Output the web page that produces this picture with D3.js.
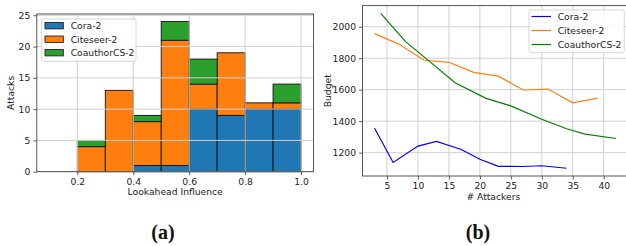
<!DOCTYPE html>
<html>
<head>
<meta charset="utf-8">
<script src="https://cdn.jsdelivr.net/npm/d3@7"></script>
<style>
  body { margin: 0; background: #fff; }
  svg { display: block; font-family: "DejaVu Sans", sans-serif; }
</style>
</head>
<body>
<div class="canva"></div>
<script>
// histogram data (bins of width 0.1)
const binStarts = [0.1, 0.2, 0.3, 0.4, 0.5, 0.6, 0.7, 0.8, 0.9];
const seriesNames = ['Cora-2', 'Citeseer-2', 'CoauthorCS-2'];
const coraCounts = [0, 0, 0, 1, 1, 10, 9, 10, 10];
const citeseerCounts = [0, 4, 13, 7, 20, 4, 10, 1, 1];
const coauthorCounts = [0, 1, 0, 1, 3, 4, 0, 0, 3];
const histTicksX = [0.2, 0.4, 0.6, 0.8, 1.0];
const histTicksY = [0, 5, 10, 15, 20, 25];

// budget vs attackers
const coraX = [3, 6, 10, 13, 17, 20, 23, 27, 30, 34];
const coraBudget = [1355, 1138, 1242, 1272, 1220, 1158, 1113, 1112, 1117, 1101];
const citeX = [3, 7, 11, 15, 19, 23, 27, 31, 35, 39];
const citeBudget = [1956, 1888, 1787, 1774, 1710, 1686, 1598, 1604, 1517, 1546];
const coauX = [4, 8, 12, 16, 21, 25, 30, 34, 37, 42];
const coauBudget = [2085, 1905, 1775, 1644, 1545, 1497, 1412, 1352, 1318, 1290];
const lineTicksX = [5, 10, 15, 20, 25, 30, 35, 40];
const lineTicksY = [1200, 1400, 1600, 1800, 2000];

const histColors = ['#1f77b4', '#ff7f0e', '#2ca02c'];
const lineColors = ['#0000ff', '#ff7f0e', '#008000'];
const gridColor = '#d0d0d0';
const fontSize = 9.2;

const svg = d3.select('.canva').append('svg')
              .attr('width', 626)
              .attr('height', 246);

//-------- (a) stacked histogram --------
const histBox = {left: 36.8, right: 313.6, top: 14, bottom: 171.7};
const hx = d3.scaleLinear().domain([0.055, 1.045]).range([histBox.left, histBox.right]);
const hy = d3.scaleLinear().domain([0, 25.2]).range([histBox.bottom, histBox.top]);

const histRows = binStarts.map((b, i) => ({
    bin: b,
    'Cora-2': coraCounts[i],
    'Citeseer-2': citeseerCounts[i],
    'CoauthorCS-2': coauthorCounts[i]
}));
const stacked = d3.stack().keys(seriesNames)(histRows);

const histG = svg.append('g');
stacked.forEach((layer, k) => {
    histG.append('g').selectAll('rect')
        .data(layer)
        .enter().append('rect')
        .attr('x', d => hx(d.data.bin))
        .attr('width', d => hx(d.data.bin + 0.1) - hx(d.data.bin))
        .attr('y', d => hy(d[1]))
        .attr('height', d => hy(d[0]) - hy(d[1]))
        .attr('fill', histColors[k])
        .attr('stroke', d => (d[1] - d[0]) > 0 ? '#111' : 'none')
        .attr('stroke-width', 0.9);
});

// grid drawn on top of bars
const hGrid = svg.append('g');
hGrid.selectAll('.gx').data(histTicksX).enter().append('line')
    .attr('x1', d => hx(d)).attr('x2', d => hx(d))
    .attr('y1', histBox.top).attr('y2', histBox.bottom)
    .attr('stroke', gridColor).attr('stroke-width', 1);
hGrid.selectAll('.gy').data(histTicksY).enter().append('line')
    .attr('x1', histBox.left).attr('x2', histBox.right)
    .attr('y1', d => hy(d)).attr('y2', d => hy(d))
    .attr('stroke', gridColor).attr('stroke-width', 1);

//axes for histogram
function styleAxis(g) {
    g.selectAll('text').attr('font-size', fontSize).attr('fill', '#222')
        .attr('font-family', '"DejaVu Sans", sans-serif');
    g.selectAll('line').attr('stroke', '#333').attr('stroke-width', 0.8);
    g.select('.domain').remove();
}
svg.append('g')
    .attr('transform', `translate(0, ${histBox.bottom})`)
    .call(d3.axisBottom(hx).tickValues(histTicksX).tickFormat(d3.format('.1f')).tickSize(3.5).tickPadding(3))
    .call(styleAxis);
svg.append('g')
    .attr('transform', `translate(${histBox.left}, 0)`)
    .call(d3.axisLeft(hy).tickValues(histTicksY).tickSize(3.5).tickPadding(3))
    .call(styleAxis);

svg.append('rect')
    .attr('x', histBox.left).attr('y', histBox.top)
    .attr('width', histBox.right - histBox.left)
    .attr('height', histBox.bottom - histBox.top)
    .attr('fill', 'none').attr('stroke', '#444').attr('stroke-width', 0.9);

svg.append('text')
    .attr('x', (histBox.left + histBox.right) / 2).attr('y', 195)
    .attr('text-anchor', 'middle').attr('font-size', fontSize).attr('fill', '#222')
    .text('Lookahead Influence');
svg.append('text')
    .attr('transform', `translate(14, ${(histBox.top + histBox.bottom) / 2}) rotate(-90)`)
    .attr('text-anchor', 'middle').attr('font-size', fontSize).attr('fill', '#222')
    .text('Attacks');

// legend (a)
const legA = svg.append('g');
legA.append('rect')
    .attr('x', 41.7).attr('y', 19).attr('width', 94.3).attr('height', 42.3)
    .attr('rx', 2).attr('fill', 'white').attr('fill-opacity', 0.85)
    .attr('stroke', '#cccccc').attr('stroke-width', 0.8);
seriesNames.forEach((name, i) => {
    const cy = 25.7 + i * 13.5;
    legA.append('rect')
        .attr('x', 45).attr('y', cy - 3.2).attr('width', 18.3).attr('height', 6.4)
        .attr('fill', histColors[i]).attr('stroke', '#111').attr('stroke-width', 0.8);
    legA.append('text')
        .attr('x', 70.7).attr('y', cy + 3.3)
        .attr('font-size', fontSize).attr('fill', '#222')
        .text(name);
});

//-------- (b) line chart --------
const lineBox = {left: 362.5, right: 628.2, top: 5.6, bottom: 176};
const lx = d3.scaleLinear().domain([1.05, 43.95]).range([lineBox.left, lineBox.right]);
const ly = d3.scaleLinear().domain([1051.8, 2134.2]).range([lineBox.bottom, lineBox.top]);

const lGrid = svg.append('g');
lGrid.selectAll('.gx').data(lineTicksX).enter().append('line')
    .attr('x1', d => lx(d)).attr('x2', d => lx(d))
    .attr('y1', lineBox.top).attr('y2', lineBox.bottom)
    .attr('stroke', gridColor).attr('stroke-width', 1);
lGrid.selectAll('.gy').data(lineTicksY).enter().append('line')
    .attr('x1', lineBox.left).attr('x2', lineBox.right)
    .attr('y1', d => ly(d)).attr('y2', d => ly(d))
    .attr('stroke', gridColor).attr('stroke-width', 1);

const lineSeries = [
    {name: 'Cora-2', xs: coraX, ys: coraBudget},
    {name: 'Citeseer-2', xs: citeX, ys: citeBudget},
    {name: 'CoauthorCS-2', xs: coauX, ys: coauBudget}
];
const lineGen = d3.line().x(d => lx(d[0])).y(d => ly(d[1]));
lineSeries.forEach((s, i) => {
    svg.append('path')
        .datum(s.xs.map((x, j) => [x, s.ys[j]]))
        .attr('d', lineGen)
        .attr('fill', 'none')
        .attr('stroke', lineColors[i])
        .attr('stroke-width', 1.2);
});

svg.append('g')
    .attr('transform', `translate(0, ${lineBox.bottom})`)
    .call(d3.axisBottom(lx).tickValues(lineTicksX).tickSize(3.5).tickPadding(3))
    .call(styleAxis);
svg.append('g')
    .attr('transform', `translate(${lineBox.left}, 0)`)
    .call(d3.axisLeft(ly).tickValues(lineTicksY).tickFormat(d3.format('d')).tickSize(3.5).tickPadding(3))
    .call(styleAxis);

svg.append('rect')
    .attr('x', lineBox.left).attr('y', lineBox.top)
    .attr('width', lineBox.right - lineBox.left)
    .attr('height', lineBox.bottom - lineBox.top)
    .attr('fill', 'none').attr('stroke', '#444').attr('stroke-width', 0.9);

svg.append('text')
    .attr('x', (lineBox.left + lineBox.right) / 2 - 2).attr('y', 200)
    .attr('text-anchor', 'middle').attr('font-size', fontSize).attr('fill', '#222')
    .text('# Attackers');
svg.append('text')
    .attr('transform', `translate(331, ${(lineBox.top + lineBox.bottom) / 2}) rotate(-90)`)
    .attr('text-anchor', 'middle').attr('font-size', fontSize).attr('fill', '#222')
    .text('Budget');

// legend (b)
const legB = svg.append('g');
legB.append('rect')
    .attr('x', 529).attr('y', 10).attr('width', 95.3).attr('height', 42.7)
    .attr('rx', 2).attr('fill', 'white').attr('fill-opacity', 0.85)
    .attr('stroke', '#cccccc').attr('stroke-width', 0.8);
seriesNames.forEach((name, i) => {
    const cy = 16.5 + i * 14;
    legB.append('line')
        .attr('x1', 531.5).attr('x2', 551).attr('y1', cy).attr('y2', cy)
        .attr('stroke', lineColors[i]).attr('stroke-width', 1.2);
    legB.append('text')
        .attr('x', 557.7).attr('y', cy + 3.3)
        .attr('font-size', fontSize).attr('fill', '#222')
        .text(name);
});

// sub-figure captions
[['(a)', 163], ['(b)', 478]].forEach(([t, x]) => {
    svg.append('text')
        .attr('x', x).attr('y', 239)
        .attr('text-anchor', 'middle')
        .attr('font-family', '"Liberation Serif", "DejaVu Serif", serif')
        .attr('font-weight', 'bold')
        .attr('font-size', 20)
        .attr('fill', '#111')
        .text(t);
});
</script>
</body>
</html>
